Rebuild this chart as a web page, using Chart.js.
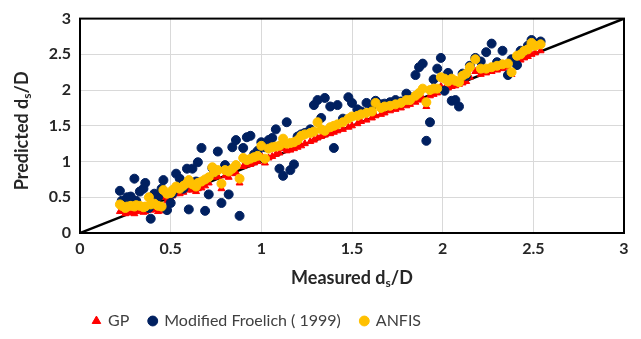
<!DOCTYPE html>
<html>
<head>
<meta charset="utf-8">
<script src="https://cdn.jsdelivr.net/npm/chart.js@4.4.0/dist/chart.umd.min.js"></script>
<style>
  html, body { margin: 0; padding: 0; background: #fff; }
  #wrap { width: 641px; height: 339px; }
</style>
</head>
<body>
<div id="wrap"><canvas id="scatterChart" width="641" height="339"></canvas></div>
<script>
// measured scour depth ratio (shared by all three models)
const measured = [
  0.22, 0.23, 0.25, 0.26, 0.28, 0.30, 0.31, 0.33, 0.35, 0.36,
  0.38, 0.39, 0.41, 0.43, 0.45, 0.46, 0.48, 0.50, 0.51, 0.53,
  0.55, 0.57, 0.59, 0.60, 0.62, 0.64, 0.65, 0.67, 0.69, 0.71,
  0.73, 0.74, 0.76, 0.78, 0.80, 0.82, 0.84, 0.86, 0.88, 0.90,
  0.92, 0.94, 0.96, 0.98, 1.00, 1.02, 1.04, 1.06, 1.08, 1.10,
  1.12, 1.14, 1.16, 1.18, 1.20, 1.22, 1.24, 1.27, 1.29, 1.31,
  1.33, 1.35, 1.38, 1.40, 1.42, 1.45, 1.48, 1.50, 1.53, 1.55,
  1.58, 1.61, 1.63, 1.66, 1.68, 1.71, 1.74, 1.77, 1.80, 1.82,
  1.85, 1.87, 1.89, 1.91, 1.93, 1.95, 1.97, 1.99, 2.01, 2.03,
  2.05, 2.07, 2.09, 2.11, 2.13, 2.15, 2.18, 2.21, 2.24, 2.27,
  2.30, 2.33, 2.36, 2.38, 2.41, 2.43, 2.45, 2.47, 2.49, 2.51,
  2.54
];

const gpPredicted = [
  0.30, 0.32, 0.27, 0.28, 0.29, 0.27, 0.30, 0.31, 0.29, 0.30,
  0.40, 0.32, 0.33, 0.30, 0.31, 0.50, 0.45, 0.48, 0.52, 0.55,
  0.55, 0.57, 0.60, 0.63, 0.60, 0.58, 0.62, 0.63, 0.66, 0.70,
  0.80, 0.78, 0.79, 0.62, 0.80, 0.78, 0.83, 0.85, 0.70, 0.93,
  0.95, 0.96, 0.98, 1.00, 1.08, 0.98, 1.05, 1.07, 1.10, 1.12,
  1.18, 1.15, 1.16, 1.18, 1.20, 1.22, 1.25, 1.28, 1.30, 1.33,
  1.35, 1.37, 1.39, 1.41, 1.43, 1.45, 1.48, 1.50, 1.53, 1.56,
  1.58, 1.61, 1.64, 1.66, 1.68, 1.71, 1.73, 1.75, 1.78, 1.80,
  1.83, 1.86, 1.88, 1.77, 1.92, 1.94, 1.96, 2.05, 2.02, 2.03,
  2.05, 2.06, 2.08, 2.10, 2.12, 2.18, 2.26, 2.22, 2.24, 2.26,
  2.28, 2.30, 2.32, 2.22, 2.40, 2.42, 2.45, 2.47, 2.50, 2.52,
  2.55
];

const froelichPredicted = [
  0.59, 0.45, 0.40, 0.50, 0.51, 0.76, 0.45, 0.58, 0.62, 0.70,
  0.35, 0.20, 0.55, 0.50, 0.62, 0.74, 0.32, 0.42, 0.55, 0.83,
  0.76, 0.62, 0.90, 0.33, 0.90, 0.72, 0.99, 1.19, 0.31, 0.54,
  0.91, 0.85, 1.14, 0.42, 0.95, 0.54, 1.20, 1.30, 0.24, 1.19,
  1.34, 1.36, 1.10, 1.15, 1.27, 1.20, 1.30, 1.33, 1.45, 0.90,
  0.80, 1.55, 0.88, 0.96, 1.35, 1.38, 1.40, 1.45, 1.79, 1.86,
  1.61, 1.89, 1.77, 1.19, 1.79, 1.60, 1.90, 1.82, 1.73, 1.70,
  1.82, 1.78, 1.85, 1.80, 1.81, 1.83, 1.86, 1.84, 1.95, 1.90,
  2.21, 2.32, 2.37, 1.29, 1.55, 2.15, 2.30, 2.45, 1.99, 2.24,
  1.85, 1.86, 1.77, 2.23, 2.20, 2.34, 2.45, 2.40, 2.53, 2.65,
  2.39, 2.55, 2.21, 2.43, 2.35, 2.55, 2.55, 2.62, 2.70, 2.65,
  2.68
];

const anfisPredicted = [
  0.40, 0.38, 0.35, 0.37, 0.38, 0.37, 0.39, 0.38, 0.36, 0.37,
  0.50, 0.40, 0.41, 0.38, 0.37, 0.60, 0.55, 0.56, 0.60, 0.65,
  0.62, 0.66, 0.70, 0.74, 0.68, 0.65, 0.70, 0.72, 0.75, 0.78,
  0.92, 0.85, 0.88, 0.69, 0.88, 0.86, 0.90, 0.95, 0.76, 1.05,
  1.02, 1.04, 1.06, 1.08, 1.22, 1.04, 1.18, 1.20, 1.21, 1.22,
  1.32, 1.25, 1.26, 1.27, 1.30, 1.36, 1.38, 1.40, 1.42, 1.55,
  1.45, 1.43, 1.48, 1.50, 1.52, 1.55, 1.60, 1.63, 1.64, 1.66,
  1.68, 1.70, 1.82, 1.75, 1.77, 1.78, 1.80, 1.82, 1.86, 1.86,
  1.92, 1.96, 2.02, 1.83, 2.00, 2.02, 2.02, 2.18, 2.16, 2.12,
  2.16, 2.13, 2.11, 2.20, 2.23, 2.32, 2.43, 2.30, 2.30, 2.32,
  2.34, 2.36, 2.37, 2.25, 2.48, 2.50, 2.55, 2.57, 2.66, 2.62,
  2.64
];

const axisMin = 0;
const axisMax = 3;
const axisStep = 0.5;

function toPoints(ys) {
  return measured.map((x, i) => ({ x: x, y: ys[i] }));
}

const FONT = "'Lato', 'Liberation Sans', sans-serif";

// axis titles with a subscript "s"
function drawSubTitle(ctx, before, sub, after, cx, cy) {
  ctx.font = 'bold 18px ' + FONT;
  const w1 = ctx.measureText(before).width;
  const w3 = ctx.measureText(after).width;
  ctx.font = 'bold 12px ' + FONT;
  const w2 = ctx.measureText(sub).width;
  let x = cx - (w1 + w2 + w3) / 2;
  ctx.textBaseline = 'middle';
  ctx.textAlign = 'left';
  ctx.fillStyle = '#262626';
  ctx.font = 'bold 18px ' + FONT;
  ctx.fillText(before, x, cy);
  x += w1;
  ctx.font = 'bold 12px ' + FONT;
  ctx.fillText(sub, x, cy + 5);
  x += w2;
  ctx.font = 'bold 18px ' + FONT;
  ctx.fillText(after, x, cy);
}

const titlesAndFrame = {
  id: 'titlesAndFrame',
  afterLayout(chart) {
    // legend sits a little left of the canvas centre
    const legend = chart.legend;
    if (legend) {
      legend.left -= 55;
      legend.right -= 55;
    }
  },
  afterDraw(chart) {
    const { ctx, chartArea } = chart;
    ctx.save();
    ctx.strokeStyle = '#000';
    ctx.lineWidth = 2;
    ctx.strokeRect(chartArea.left, chartArea.top, chartArea.right - chartArea.left, chartArea.bottom - chartArea.top);
    drawSubTitle(ctx, 'Measured d', 's', '/D', (chartArea.left + chartArea.right) / 2, chartArea.bottom + 45);
    ctx.translate(22, (chartArea.top + chartArea.bottom) / 2 + 5);
    ctx.rotate(-Math.PI / 2);
    drawSubTitle(ctx, 'Predicted d', 's', '/D', 0, 0);
    ctx.restore();
  }
};

const ctx = document.getElementById('scatterChart').getContext('2d');
new Chart(ctx, {
  type: 'scatter',
  data: {
    datasets: [
      {
        label: 'GP',
        data: toPoints(gpPredicted),
        pointStyle: 'triangle',
        pointRadius: 4,
        backgroundColor: '#FF0000',
        borderColor: '#FF0000',
        borderWidth: 1,
        order: 3
      },
      {
        label: 'Modified Froelich ( 1999)',
        data: toPoints(froelichPredicted),
        pointStyle: 'circle',
        pointRadius: 4.5,
        backgroundColor: '#002060',
        borderColor: '#002060',
        borderWidth: 1,
        order: 2
      },
      {
        label: 'ANFIS',
        data: toPoints(anfisPredicted),
        pointStyle: 'circle',
        pointRadius: 4.5,
        backgroundColor: '#FFC000',
        borderColor: '#FFC000',
        borderWidth: 1,
        order: 1
      },
      {
        type: 'line',
        label: '',
        data: [{ x: axisMin, y: axisMin }, { x: axisMax, y: axisMax }],
        borderColor: '#000',
        borderWidth: 2.5,
        pointRadius: 0,
        order: 10
      }
    ]
  },
  options: {
    responsive: false,
    animation: false,
    layout: { padding: { left: 0, right: 17, top: 14, bottom: 0 } },
    scales: {
      x: {
        type: 'linear',
        min: axisMin,
        max: axisMax,
        border: { display: false },
        grid: { color: '#d9d9d9', lineWidth: 1, drawTicks: false },
        ticks: {
          stepSize: axisStep,
          padding: 6,
          color: '#262626',
          font: { family: FONT, size: 16, weight: 'bold' },
          callback: value => String(value)
        },
        afterFit: scale => { scale.height = 60; }
      },
      y: {
        type: 'linear',
        min: axisMin,
        max: axisMax,
        border: { display: false },
        grid: { color: '#d9d9d9', lineWidth: 1, drawTicks: false },
        ticks: {
          stepSize: axisStep,
          padding: 9,
          color: '#262626',
          font: { family: FONT, size: 16, weight: 'bold' },
          callback: value => String(value)
        },
        afterFit: scale => { scale.width = 80; }
      }
    },
    plugins: {
      legend: {
        position: 'bottom',
        labels: {
          usePointStyle: true,
          boxWidth: 7,
          boxHeight: 7,
          padding: 20,
          color: '#404040',
          font: { family: FONT, size: 16 },
          filter: item => item.text !== '',
          sort: (a, b) => a.datasetIndex - b.datasetIndex
        }
      },
      tooltip: { enabled: false }
    }
  },
  plugins: [titlesAndFrame]
});
</script>
</body>
</html>
